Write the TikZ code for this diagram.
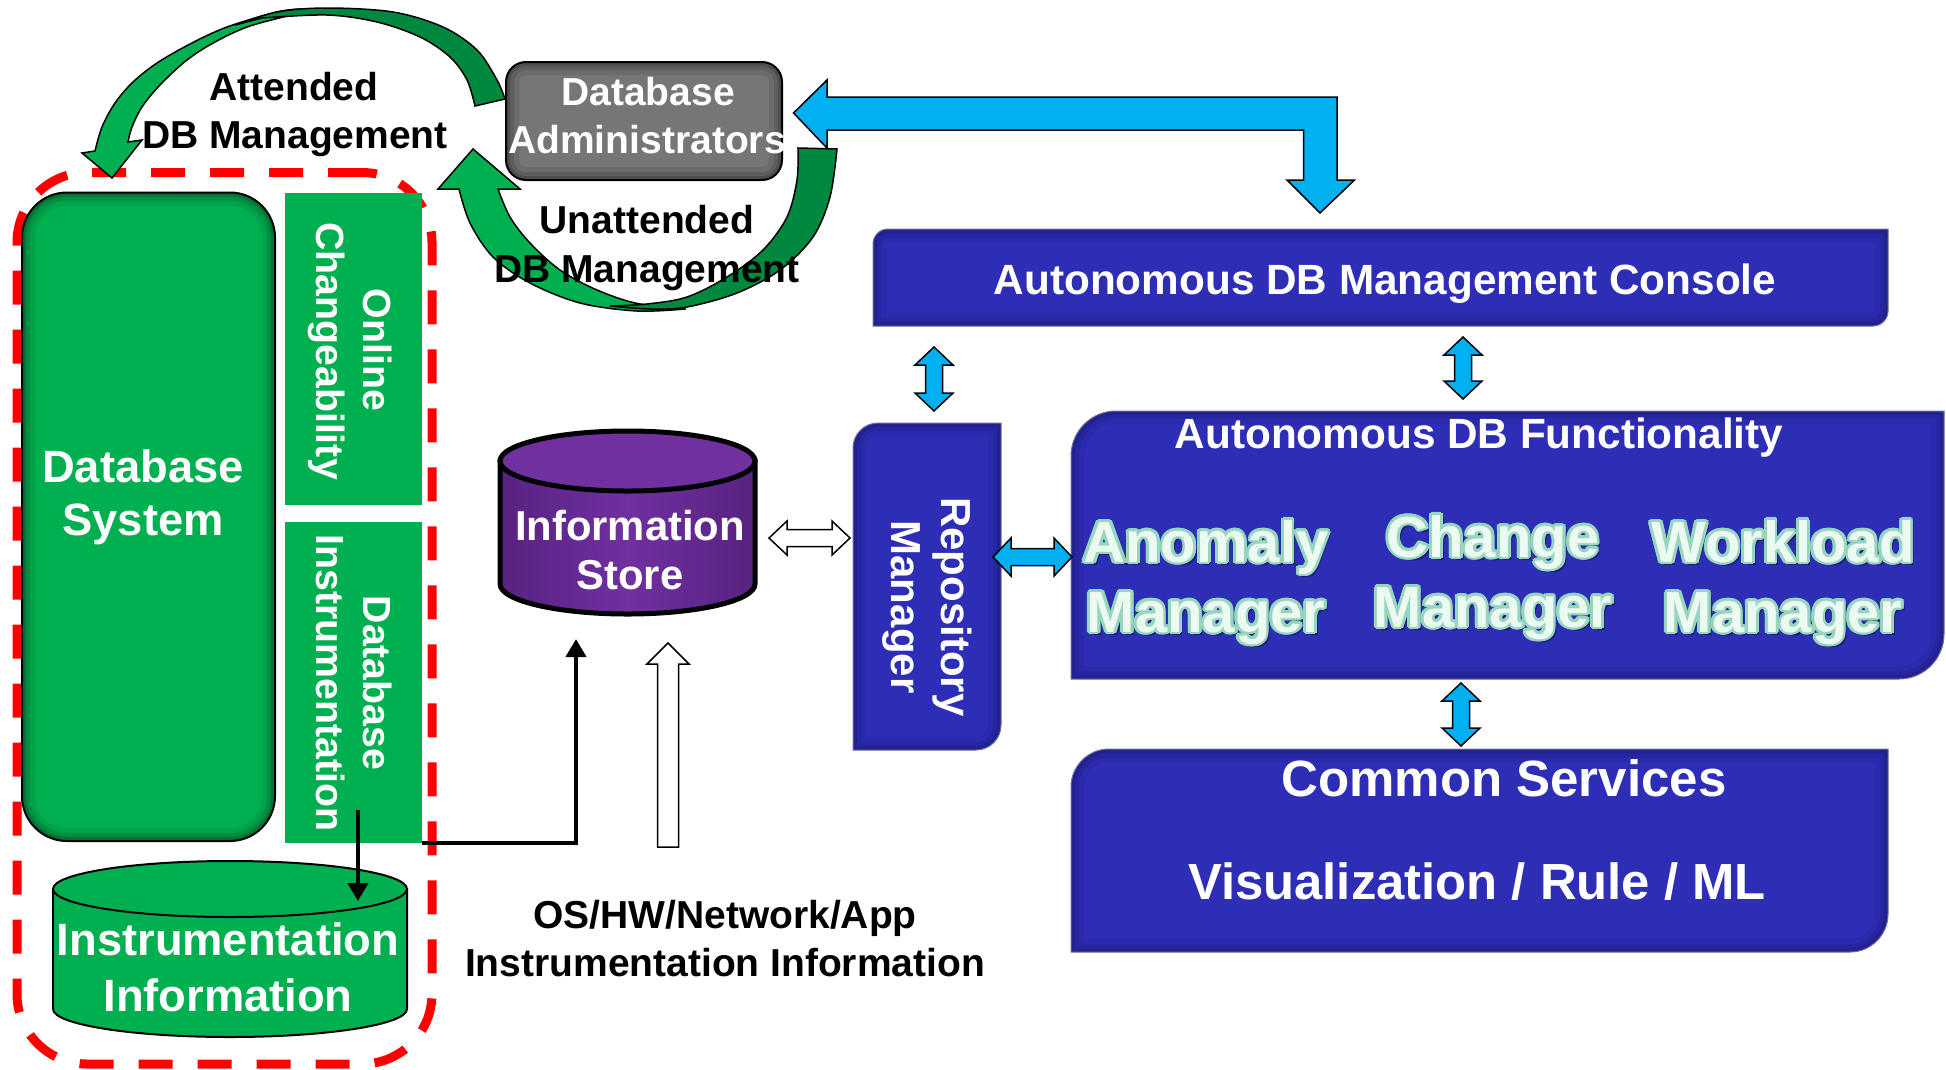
\documentclass[tikz,border=0pt]{standalone}
\usepackage{fontspec}
\setmainfont{Liberation Sans}
\usetikzlibrary{arrows.meta}

\definecolor{dbgreen}{RGB}{0,176,80}
\definecolor{dkgreen}{RGB}{0,137,62}
\definecolor{boxblue}{RGB}{46,45,181}
\definecolor{edgeblue}{RGB}{12,12,80}
\definecolor{boxedge}{RGB}{110,110,150}
\definecolor{skyblue}{RGB}{0,176,240}
\definecolor{storepurple}{RGB}{112,48,160}
\definecolor{storeshade}{RGB}{88,34,128}
\definecolor{admingray}{RGB}{118,118,118}
\definecolor{mintfill}{RGB}{236,250,242}
\definecolor{mintedge}{RGB}{150,214,190}
\definecolor{mintshadow}{RGB}{28,28,115}

% outlined light lettering used for the three manager titles
\newcommand\mintword[1]{%
  \leavevmode
  \rlap{\hspace*{3.5pt}\raisebox{-3.5pt}{\color{mintshadow}#1}}%
  \foreach \ang in {0,22.5,...,337.5}{%
    \pgfmathsetmacro\mdx{2.8*cos(\ang)}%
    \pgfmathsetmacro\mdy{2.8*sin(\ang)}%
    \rlap{\hspace*{\mdx pt}\raisebox{\mdy pt}{\color{mintedge}#1}}}%
  {\color{mintfill}#1}}

% rectangle with rounded top-left and bottom-right corners: x1 y1 x2 y2 r
\newcommand\diagpath[5]{(#1,#4) -- (#1,{#2+#5}) .. controls (#1,{#2+0.448*#5}) and ({#1+0.448*#5},#2) .. ({#1+#5},#2) -- (#3,#2) -- (#3,{#4-#5}) .. controls (#3,{#4-0.448*#5}) and ({#3-0.448*#5},#4) .. ({#3-#5},#4) -- cycle}

% soft darkening along the inside of a closed path
\newcommand\shadein[2]{%
  \begin{scope}
    \clip #1;
    \draw[draw=#2, line width=26, opacity=0.08] #1;
    \draw[draw=#2, line width=16, opacity=0.12] #1;
    \draw[draw=#2, line width=8, opacity=0.18] #1;
  \end{scope}}

% block double arrows
\newcommand\vdarrow[4]{%
  \draw[#4] (#1,#2) -- ({#1+19},{#2+18}) -- ({#1+8.5},{#2+18}) -- ({#1+8.5},{#3-18}) -- ({#1+19},{#3-18}) -- (#1,#3) -- ({#1-19},{#3-18}) -- ({#1-8.5},{#3-18}) -- ({#1-8.5},{#2+18}) -- ({#1-19},{#2+18}) -- cycle;}
\newcommand\hdarrow[5]{%
  \draw[#5] (#2,#1) -- ({#2+18},{#1-#4}) -- ({#2+18},{#1-8.5}) -- ({#3-18},{#1-8.5}) -- ({#3-18},{#1-#4}) -- (#3,#1) -- ({#3-18},{#1+#4}) -- ({#3-18},{#1+8.5}) -- ({#2+18},{#1+8.5}) -- ({#2+18},{#1+#4}) -- cycle;}

\begin{document}
\begin{tikzpicture}[x=1pt, y=-1pt,
  box area/.style 2 args={minimum width=#1, minimum height=#2, inner sep=0pt, outer sep=0pt},
  wlabel/.style={anchor=base, inner sep=0pt, text=white, font=\fontsize{#1}{#1}\selectfont\bfseries},
  blabel/.style={anchor=base, inner sep=0pt, text=black, font=\fontsize{#1}{#1}\selectfont\bfseries},
  mlabel/.style={anchor=base, inner sep=0pt, font=\fontsize{58}{58}\selectfont\bfseries},
  blk/.style={line width=4.3, -{Triangle[width=20pt,length=18pt]}},
  bluearrow/.style={fill=skyblue, draw=black, line width=1.5, line join=miter},
  whitearrow/.style={fill=white, draw=black, line width=1.5, line join=miter},
  curvearrow/.style={draw=black, line width=1.5, line join=miter},
]
\useasboundingbox (0,0) rectangle (1946,1069);

% ---------- database side ----------
\node[box area={415}{891.5}, draw=red, line width=9, dash pattern=on 34pt off 25pt, rounded corners=70] (frame) at (224.5,618.25) {};

\node[box area={253}{648.5}, fill=dbgreen, draw=black, line width=2, rounded corners=45] (dbsys) at (148.5,516.75) {};
\shadein{(22,192.5) [rounded corners=45pt] rectangle (275,841)}{black}

\node[box area={137}{312.5}, fill=dbgreen] (online) at (353.5,348.75) {};
\node[box area={137}{321}, fill=dbgreen] (dbinstr) at (353.5,682.5) {};

% instrumentation information cylinder
\node[box area={354}{176}] (instrinfo) at (230,949) {};
\draw[fill=dbgreen, line width=2] (53,889) -- (53,1009) .. controls (53,1024.5) and (132.3,1037) .. (230,1037) .. controls (327.7,1037) and (407,1024.5) .. (407,1009) -- (407,889) -- cycle;
\draw[fill=dbgreen, line width=2] (230,889) ellipse [x radius=177, y radius=28];

\coordinate (dbiout) at (358,810);
\coordinate (iitop) at (358,901);
\draw[blk] (dbiout) -- (iitop);

% ---------- information store ----------
\node[box area={255}{153}] (store) at (627.5,537.5) {};
\draw[line width=5, left color=storeshade, right color=storeshade, middle color=storepurple] (500,461) -- (500,584) .. controls (500,600.6) and (557.1,614) .. (627.5,614) .. controls (697.9,614) and (755,600.6) .. (755,584) -- (755,461) -- cycle;
\draw[line width=5, fill=storepurple] (627.5,461) ellipse [x radius=127.5, y radius=30];

\coordinate (storein) at (576,639);
\draw[blk, line join=miter] (dbinstr.south east) -| (storein);

% external instrumentation feed
\draw[whitearrow] (668,643) -- (689,664) -- (678.5,664) -- (678.5,847) -- (657.5,847) -- (657.5,664) -- (647,664) -- cycle;
\hdarrow{538}{769}{850}{17}{whitearrow}

% ---------- autonomous management boxes ----------
\node[box area={1015}{97}] (console) at (1380.5,277.5) {};
\fill[boxblue] \diagpath{873}{229}{1888}{326}{15};
\shadein{\diagpath{873}{229}{1888}{326}{15}}{edgeblue}
\draw[draw=boxedge, line width=1] \diagpath{873}{229}{1888}{326}{15};

\node[box area={148}{327}] (repo) at (927,586.5) {};
\fill[boxblue] \diagpath{853}{423}{1001}{750}{25};
\shadein{\diagpath{853}{423}{1001}{750}{25}}{edgeblue}
\draw[draw=boxedge, line width=1] \diagpath{853}{423}{1001}{750}{25};

\node[box area={873}{268}] (func) at (1507.5,545) {};
\fill[boxblue] \diagpath{1071}{411}{1944}{679}{45};
\shadein{\diagpath{1071}{411}{1944}{679}{45}}{edgeblue}
\draw[draw=boxedge, line width=1] \diagpath{1071}{411}{1944}{679}{45};

\node[box area={817}{203}] (common) at (1479.5,850.5) {};
\fill[boxblue] \diagpath{1071}{749}{1888}{952}{38};
\shadein{\diagpath{1071}{749}{1888}{952}{38}}{edgeblue}
\draw[draw=boxedge, line width=1] \diagpath{1071}{749}{1888}{952}{38};

\vdarrow{934}{347}{411}{bluearrow}
\vdarrow{1463}{337}{399}{bluearrow}
\vdarrow{1461}{683}{746}{bluearrow}
\hdarrow{557}{993}{1072}{19}{bluearrow}

% ---------- administrators ----------
\node[box area={276}{118}, fill=admingray, draw=black, line width=2, rounded corners=20] (admin) at (644,121) {};
\shadein{(506,62) [rounded corners=20pt] rectangle (782,180)}{black}

\draw[bluearrow] (793.5,113) -- (827,80) -- (827,97) -- (1337,97) -- (1337,180) -- (1354.5,180) -- (1320,213) -- (1287,180) -- (1303.5,180) -- (1303.5,130) -- (827,130) -- (827,148) -- cycle;

% attended management loop
\draw[curvearrow, fill=dbgreen] plot[smooth, tension=0.55] coordinates {(300,9) (277,12) (227,27) (190,44) (157,63) (133,82) (115,103) (102,127) (95,151)} -- (82,153) -- (112,178) -- (142,140) -- plot[smooth, tension=0.55] coordinates {(128,142) (132,127) (142,107) (160,85) (187,60) (215,42) (250,26) (300,13)} -- cycle;
\draw[curvearrow, fill=dkgreen] plot[smooth, tension=0.55] coordinates {(505,99) (497,80) (477,50) (443,27) (393,12) (327,8) (277,12) (235,25)} -- plot[smooth, tension=0.55] coordinates {(262,18) (327,15) (377,22) (420,37) (450,57) (467,80) (475,106)} -- cycle;

% unattended management loop
\draw[curvearrow, fill=dbgreen] plot[smooth, tension=0.55] coordinates {(459,189) (470,223) (493,257) (530,283) (580,303) (637,311) (685,309)} -- plot[smooth, tension=0.55] coordinates {(685,305) (640,304) (597,290) (560,270) (530,243) (510,217) (498,189)} -- (520,189) -- (473,149) -- (438,189) -- cycle;
\draw[curvearrow, fill=dkgreen] plot[smooth, tension=0.55] coordinates {(610,306) (650,309) (687,307) (737,293) (780,270) (813,237) (830,197) (837,149)} -- plot[smooth, tension=0.55] coordinates {(798,148) (797,180) (787,217) (763,250) (727,277) (687,297) (647,304) (610,306)} -- cycle;

% ---------- labels ----------
\node[blabel=39] (att1) at (294,100) {Attended};
\node[blabel=39] (att2) at (295,148) {DB Management};
\node[blabel=39] (unat1) at (647,233) {Unattended};
\node[blabel=39] (unat2) at (647,282) {DB Management};
\node[blabel=39] (os1) at (725,928) {OS/HW/Network/App};
\node[blabel=39] (os2) at (725,976) {Instrumentation Information};

\node[wlabel=39] (adm1) at (648,105) {Database};
\node[wlabel=39] (adm2) at (647,153) {Administrators};

\node[wlabel=45.3] (dbs1) at (143,482) {Database};
\node[wlabel=45.3] (dbs2) at (143,535) {System};
\node[wlabel=39.3, rotate=-90] (onl1) at (363,350) {Online};
\node[wlabel=39.3, rotate=-90] (onl2) at (316,351) {Changeability};
\node[wlabel=39.3, rotate=-90] (dbi1) at (363,683) {Database};
\node[wlabel=39.3, rotate=-90] (dbi2) at (316,683) {Instrumentation};
\node[wlabel=45.3] (ii1) at (228,955) {Instrumentation};
\node[wlabel=45.3] (ii2) at (228,1011) {Information};

\node[wlabel=41.8] (is1) at (630,540) {Information};
\node[wlabel=41.8] (is2) at (630,589) {Store};
\node[wlabel=42, rotate=-90] (rm1) at (941,607) {Repository};
\node[wlabel=42, rotate=-90] (rm2) at (891,607) {Manager};

\node[wlabel=42.3] (con) at (1385,294) {Autonomous DB Management Console};
\node[wlabel=42.3] (fun) at (1479,448) {Autonomous DB Functionality};
\node[mlabel] (anom1) at (1206,562) {\mintword{Anomaly}};
\node[mlabel] (anom2) at (1206,632) {\mintword{Manager}};
\node[mlabel] (chg1) at (1493,557) {\mintword{Change}};
\node[mlabel] (chg2) at (1493,627) {\mintword{Manager}};
\node[mlabel] (wl1) at (1783,562) {\mintword{Workload}};
\node[mlabel] (wl2) at (1783,632) {\mintword{Manager}};
\node[wlabel=51] (cs1) at (1504,796) {Common Services};
\node[wlabel=50.8] (cs2) at (1477,899) {Visualization / Rule / ML};
\end{tikzpicture}
\end{document}
